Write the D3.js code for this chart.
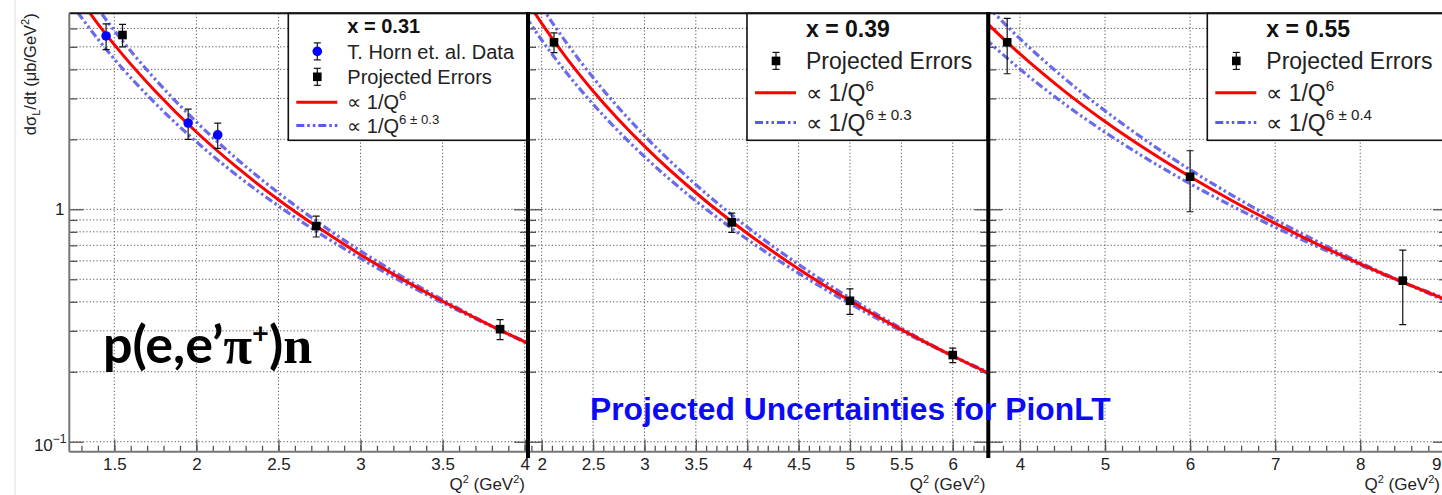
<!DOCTYPE html>
<html>
<head>
<meta charset="utf-8">
<script src="https://cdn.jsdelivr.net/npm/d3@7/dist/d3.min.js"></script>
<style>
  body { margin: 0; background: #fff; }
  svg { display: block; font-family: "Liberation Sans", Arial, sans-serif; }
</style>
</head>
<body>
<svg width="1442" height="495"></svg>
<script>
// ---- values ----
const panelTitles = ['x = 0.31', 'x = 0.39', 'x = 0.55'];
const bandExp = ['6 \u00b1 0.3', '6 \u00b1 0.3', '6 \u00b1 0.4'];
const xDomains = [[1.226, 4.02], [1.867, 6.346], [3.628, 9.02]];
const xMajor = [
  [1.5, 2, 2.5, 3, 3.5, 4],
  [2, 2.5, 3, 3.5, 4, 4.5, 5, 5.5, 6],
  [4, 5, 6, 7, 8, 9]
];
const xMinorStep = [0.1, 0.1, 0.2];
const yDomain = [0.0906, 6.97];
const yMajor = [0.1, 1];
const yMinor = [0.2, 0.3, 0.4, 0.5, 0.6, 0.7, 0.8, 0.9, 2, 3, 4, 5, 6];

// T. Horn et al. data (x = 0.31 only)
const hornQ2 = [1.45, 1.95, 2.13];
const hornSigma = [5.57, 2.35, 2.09];
const hornErr = [0.71, 0.35, 0.26];

// projected errors
const projQ2 = [[1.55, 2.73, 3.85], [2.12, 3.85, 5.0, 6.0], [3.85, 6.0, 8.5]];
const projSigma = [[5.62, 0.847, 0.305], [5.23, 0.879, 0.404, 0.236], [5.23, 1.381, 0.493]];
const projErr = [[0.62, 0.087, 0.03], [0.51, 0.084, 0.051, 0.017], [1.4, 0.405, 0.174]];

// curves: 1/Q^6 and the 1/Q^(6 +- d) band
const curveQ2 = [
  [1.2, 1.4, 1.5, 1.75, 2.0, 2.25, 2.5, 2.75, 3.0, 3.25, 3.5, 3.75, 4.02],
  [1.85, 2.0, 2.25, 2.5, 3.0, 3.5, 4.0, 4.5, 5.0, 5.5, 6.0, 6.35],
  [3.6, 4.0, 4.5, 5.0, 5.5, 6.0, 6.5, 7.0, 7.5, 8.0, 8.5, 9.05]
];
const fitQ6 = [
  [9.97, 6.28, 5.11, 3.22, 2.15, 1.51, 1.10, 0.828, 0.638, 0.502, 0.402, 0.327, 0.265],
  [7.98, 6.31, 4.43, 3.23, 1.870, 1.178, 0.789, 0.554, 0.404, 0.3035, 0.2338, 0.1972],
  [6.39, 4.66, 3.274, 2.386, 1.793, 1.381, 1.086, 0.870, 0.707, 0.5826, 0.4857, 0.4025]
];
const fitUp = [
  [11.88, 7.31, 5.88, 3.62, 2.376, 1.639, 1.177, 0.871, 0.662, 0.515, 0.408, 0.328, 0.2635],
  [9.52, 7.44, 5.14, 3.687, 2.075, 1.277, 0.839, 0.579, 0.415, 0.3075, 0.2338, 0.1956],
  [7.59, 5.42, 3.718, 2.653, 1.956, 1.480, 1.146, 0.904, 0.725, 0.5897, 0.4857, 0.3974]
];
const fitDown = [
  [8.37, 5.40, 4.43, 2.857, 1.952, 1.395, 1.034, 0.788, 0.615, 0.489, 0.396, 0.3254, 0.2669],
  [6.69, 5.35, 3.827, 2.835, 1.685, 1.086, 0.743, 0.531, 0.393, 0.2996, 0.2338, 0.1989],
  [5.38, 4.01, 2.882, 2.146, 1.643, 1.288, 1.0295, 0.837, 0.690, 0.5756, 0.4857, 0.4075]
];

// ---- layout ----
const svg = d3.select('svg');
const frameTop = 13.3, frameBottom = 451.7;
const panelLeft = [69.3, 528, 988.3];
const panelRight = [528, 988.3, 1447];
const RED = '#ff0000', BAND = '#5a5ae8', INK = '#222';

const y = d3.scaleLog().domain(yDomain).range([frameBottom, frameTop]);

// faint scan edge on the far left
svg.append('line').attr('x1', 15).attr('x2', 15).attr('y1', 0).attr('y2', 495)
  .attr('stroke', '#ddd').attr('stroke-width', 1);

const defs = svg.append('defs');

panelTitles.forEach((title, i) => {
  const x0 = panelLeft[i], x1 = panelRight[i];
  const x = d3.scaleLinear().domain(xDomains[i]).range([x0, x1]);
  const g = svg.append('g');

  defs.append('clipPath').attr('id', 'clip' + i).append('rect')
    .attr('x', x0).attr('y', frameTop).attr('width', x1 - x0).attr('height', frameBottom - frameTop);

  // dotted grid
  const grid = g.append('g').attr('stroke', '#555').attr('stroke-width', 1).attr('stroke-dasharray', '1.2,2.2');
  grid.selectAll('.vg').data(xMajor[i]).join('line')
    .attr('x1', d => x(d)).attr('x2', d => x(d)).attr('y1', frameTop).attr('y2', frameBottom);
  grid.selectAll('.hg').data(yMajor.concat(yMinor)).join('line')
    .attr('x1', x0).attr('x2', x1).attr('y1', d => y(d)).attr('y2', d => y(d));

  // x axis ticks (inside) + labels
  const minor = d3.range(Math.ceil(xDomains[i][0] / xMinorStep[i]) * xMinorStep[i], xDomains[i][1], xMinorStep[i]);
  const ax = g.append('g').attr('transform', `translate(0,${frameBottom})`);
  ax.append('g').call(d3.axisBottom(x).tickValues(minor).tickSize(-6).tickSizeOuter(0).tickFormat(''))
    .call(a => a.select('.domain').remove());
  ax.append('g').call(d3.axisBottom(x).tickValues(xMajor[i]).tickSize(-12).tickSizeOuter(0).tickPadding(6).tickFormat(d => d))
    .call(a => a.select('.domain').remove())
    .attr('font-size', 17).attr('font-family', null);
  ax.selectAll('line').attr('stroke', '#555').attr('stroke-width', 1.3);
  ax.selectAll('text').attr('fill', INK)
    .filter(d => x(d) > 1434).attr('text-anchor', 'end').attr('x', 1441 - x(xMajor[i][xMajor[i].length - 1]));
  ax.append('line').attr('x1', x0).attr('x2', x1).attr('stroke', '#777').attr('stroke-width', 2);

  // y ticks on both sides
  [[d3.axisLeft, x0], [d3.axisRight, x1]].forEach(([axisFn, xp]) => {
    const ay = g.append('g').attr('transform', `translate(${xp},0)`);
    ay.append('g').call(axisFn(y).tickValues(yMinor).tickSize(-8).tickSizeOuter(0).tickFormat(''))
      .call(a => a.select('.domain').remove());
    ay.append('g').call(axisFn(y).tickValues(yMajor).tickSize(-14).tickSizeOuter(0).tickFormat(''))
      .call(a => a.select('.domain').remove());
    ay.selectAll('line').attr('stroke', '#555').attr('stroke-width', 1.3);
  });

  // x title
  const xt = g.append('text').attr('x', Math.min(x1, 1443) - 3).attr('y', 490).attr('text-anchor', 'end')
    .attr('font-size', 17).attr('fill', INK);
  xt.append('tspan').text('Q');
  xt.append('tspan').attr('font-size', 11).attr('dy', -7).text('2');
  xt.append('tspan').attr('dy', 7).text(' (GeV');
  xt.append('tspan').attr('font-size', 11).attr('dy', -7).text('2');
  xt.append('tspan').attr('dy', 7).text(')');

  // curves
  const plot = g.append('g').attr('clip-path', `url(#clip${i})`);
  const line = d3.line().x(d => x(d[0])).y(d => y(d[1])).curve(d3.curveMonotoneX);
  [fitUp[i], fitDown[i]].forEach(vals => {
    plot.append('path').datum(curveQ2[i].map((q, k) => [q, vals[k]]))
      .attr('d', line).attr('fill', 'none').attr('stroke', BAND)
      .attr('stroke-width', 3.2).attr('stroke-dasharray', '8,3,2.5,3,2.5,3').attr('opacity', 0.9);
  });
  plot.append('path').datum(curveQ2[i].map((q, k) => [q, fitQ6[i][k]]))
    .attr('d', line).attr('fill', 'none').attr('stroke', RED).attr('stroke-width', 3);

  // error bars + markers
  const bars = (q2, s, e) => {
    const eb = plot.append('g').attr('stroke', '#111').attr('stroke-width', 1.2);
    q2.forEach((q, k) => {
      const xx = x(q), ya = y(s[k] + e[k]), yb = y(s[k] - e[k]);
      eb.append('line').attr('x1', xx).attr('x2', xx).attr('y1', ya).attr('y2', yb);
      eb.append('line').attr('x1', xx - 3.5).attr('x2', xx + 3.5).attr('y1', ya).attr('y2', ya);
      eb.append('line').attr('x1', xx - 3.5).attr('x2', xx + 3.5).attr('y1', yb).attr('y2', yb);
    });
  };
  if (i === 0) {
    bars(hornQ2, hornSigma, hornErr);
    plot.selectAll('.horn').data(hornQ2).join('circle')
      .attr('cx', d => x(d)).attr('cy', (d, k) => y(hornSigma[k])).attr('r', 4.8).attr('fill', '#0000ff');
  }
  bars(projQ2[i], projSigma[i], projErr[i]);
  plot.selectAll('.proj').data(projQ2[i]).join('rect')
    .attr('x', d => x(d) - 4.3).attr('y', (d, k) => y(projSigma[i][k]) - 4.3)
    .attr('width', 8.6).attr('height', 8.6).attr('fill', '#000');

  // legend
  const lx = x0 + 219, lw = x1 - 1 - lx, lh = 127;
  const lg = g.append('g');
  lg.append('rect').attr('x', lx).attr('y', frameTop).attr('width', lw).attr('height', lh)
    .attr('fill', '#fff').attr('stroke', '#111').attr('stroke-width', 1.6);
  const entries = i === 0 ? ['horn', 'proj', 'q6', 'band'] : ['proj', 'q6', 'band'];
  const rows = entries.length + 1;
  const rh = lh / rows;
  const fs = i === 0 ? 20 : 23;
  const fh = i === 0 ? 20 : 23;
  const cy = r => frameTop + rh * (r + 0.5);
  lg.append('text').attr('x', lx + 59).attr('y', cy(0) + fh * 0.36)
    .attr('font-size', fh).attr('font-weight', 'bold').attr('fill', '#111').text(title);
  entries.forEach((e, r) => {
    const yc = cy(r + 1) - (e === 'band' ? 2 : 0);
    const mx = lx + 29;
    if (e === 'horn' || e === 'proj') {
      lg.append('line').attr('x1', mx).attr('x2', mx).attr('y1', yc - 8.5).attr('y2', yc + 8.5)
        .attr('stroke', '#111').attr('stroke-width', 1.2);
      [yc - 8.5, yc + 8.5].forEach(yy => lg.append('line').attr('x1', mx - 3.5).attr('x2', mx + 3.5)
        .attr('y1', yy).attr('y2', yy).attr('stroke', '#111').attr('stroke-width', 1.2));
      if (e === 'horn') lg.append('circle').attr('cx', mx).attr('cy', yc).attr('r', 4.8).attr('fill', '#0000ff');
      else lg.append('rect').attr('x', mx - 4.3).attr('y', yc - 4.3).attr('width', 8.6).attr('height', 8.6).attr('fill', '#000');
    } else {
      lg.append('line').attr('x1', lx + 8).attr('x2', lx + 49).attr('y1', yc).attr('y2', yc)
        .attr('stroke', e === 'q6' ? RED : BAND).attr('stroke-width', 3)
        .attr('stroke-dasharray', e === 'q6' ? null : '8,3,2.5,3,2.5,3');
    }
    const t = lg.append('text').attr('x', lx + 59).attr('y', yc + fs * 0.36)
      .attr('font-size', fs).attr('fill', '#222');
    if (e === 'horn') t.text('T. Horn et. al. Data');
    else if (e === 'proj') t.text('Projected Errors');
    else {
      t.append('tspan').text('\u221d 1/Q');
      t.append('tspan').attr('font-size', fs * 0.66).attr('dy', -fs * 0.45)
        .text(e === 'q6' ? '6' : bandExp[i]);
    }
  });
});

// frame pieces
svg.append('line').attr('x1', panelLeft[0]).attr('x2', 1442).attr('y1', frameTop).attr('y2', frameTop)
  .attr('stroke', '#111').attr('stroke-width', 2);
svg.append('line').attr('x1', panelLeft[0]).attr('x2', panelLeft[0]).attr('y1', frameTop).attr('y2', frameBottom)
  .attr('stroke', '#777').attr('stroke-width', 2);
[panelLeft[1], panelLeft[2]].forEach(xp => {
  svg.append('line').attr('x1', xp).attr('x2', xp).attr('y1', 12).attr('y2', 458)
    .attr('stroke', '#000').attr('stroke-width', 4);
});

// y labels (left panel only)
const yl = svg.append('g').attr('font-size', 17).attr('fill', INK).attr('text-anchor', 'end');
yl.append('text').attr('x', 64.5).attr('y', y(1) + 6).text('1');
const tenth = yl.append('text').attr('x', 66.5).attr('y', y(0.1) + 9);
tenth.append('tspan').text('10');
tenth.append('tspan').attr('font-size', 12).attr('dy', -8).text('\u22121');

// y title
const yt = svg.append('text').attr('transform', `translate(36,${frameTop}) rotate(-90)`)
  .attr('text-anchor', 'end').attr('font-size', 16.5).attr('fill', INK);
yt.append('tspan').text('d\u03c3');
yt.append('tspan').attr('font-size', 11).attr('dy', 4).text('L');
yt.append('tspan').attr('dy', -4).text('/dt (\u03bcb/GeV');
yt.append('tspan').attr('font-size', 11).attr('dy', -7).text('2');
yt.append('tspan').attr('dy', 7).text(')');

// annotations
const rx = svg.append('text').attr('x', 103).attr('y', 363).attr('font-size', 52)
  .attr('font-weight', 'bold').attr('fill', '#000').attr('font-family', 'Lato, "Open Sans", sans-serif');
rx.append('tspan').text('p(e,e\u2019');
rx.append('tspan').attr('font-family', '"Liberation Serif", serif').text('\u03c0');
rx.append('tspan').attr('font-size', 29).attr('dy', -20).text('+');
rx.append('tspan').attr('dy', 20).text(')');
rx.append('tspan').attr('font-family', '"Liberation Serif", serif').text('n');

svg.append('text').attr('x', 590).attr('y', 420).attr('font-size', 31.8).attr('font-weight', 'bold')
  .attr('fill', '#0a0af5').text('Projected Uncertainties for PionLT');
</script>
</body>
</html>
